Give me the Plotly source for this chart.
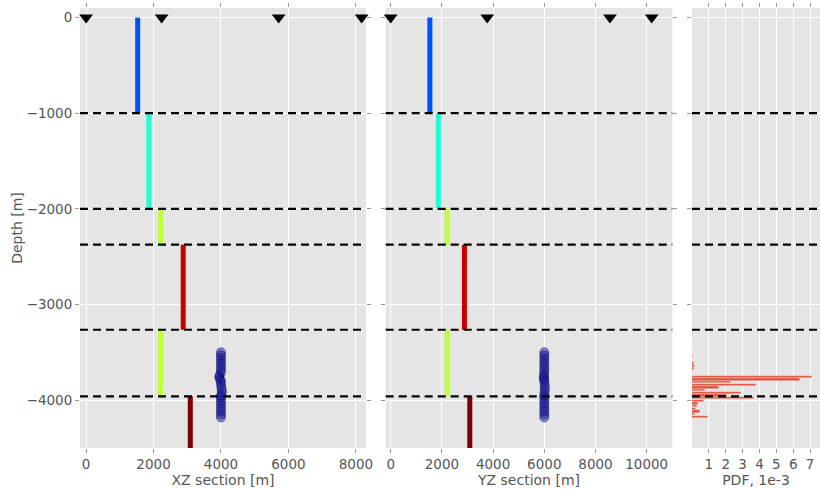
import plotly.graph_objects as go

# ---------------- data ----------------
interfaces = [-1000, -2000, -2374, -3264, -3960]
layer_top = [0, -1000, -2000, -2374, -3264, -3960]
layer_bot = [-1000, -2000, -2374, -3264, -3960, -4500]
layer_val = [1530, 1860, 2210, 2880, 2210, 3090]
layer_col = ["#0050ff", "#22ffd4", "#bfff3a", "#c80000", "#bfff3a", "#7f0000"]

stations_xz = [0, 2240, 5710, 8170]
stations_yz = [0, 3770, 8565, 10195]

ev_depth = [-3500, -3530, -3560, -3590, -3620, -3650, -3680, -3710, -3740, -3760,
            -3780, -3800, -3830, -3860, -3890, -3920, -3950, -3970, -4000, -4030,
            -4060, -4090, -4120, -4150, -4180]
ev_x = [4000, 4000, 4000, 4000, 4000, 4000, 4000, 4000, 3960, 3950,
        3970, 4000, 4000, 4010, 4020, 4030, 4000, 4000, 4000, 4000,
        4000, 4000, 4000, 4000, 4000]
ev_y = [6000, 6000, 6000, 6000, 6000, 6000, 6000, 6000, 5990, 5980,
        5990, 6000, 6010, 6020, 6020, 6010, 6000, 6000, 6000, 6000,
        6000, 6000, 6000, 6000, 6000]

pdf_depth = [-4175, -4147, -4119, -4091, -4063, -4035, -4007, -3979, -3951, -3923,
             -3895, -3867, -3839, -3811, -3783, -3755, -3727, -3699, -3671, -3643,
             -3615, -3587, -3559, -3531]
pdf_val = [0.95, 0.15, 0.45, 0.25, 0.3, 0.35, 0.74, 3.7, 2.1, 2.9,
           0.8, 1.6, 3.8, 2.3, 6.4, 7.1, 0.0, 0.0, 0.1, 0.15,
           0.1, 0.0, 0.0, 0.06]
pdf_bin = 26

xz_ticks = [0, 2000, 4000, 6000, 8000]
yz_ticks = [0, 2000, 4000, 6000, 8000, 10000]
pdf_ticks = [1, 2, 3, 4, 5, 6, 7]
depth_ticks = [0, -1000, -2000, -3000, -4000]

# ---------------- figure ----------------
fig = go.Figure()
axes = [("x", "y"), ("x2", "y2"), ("x3", "y3")]

for xa, ya, ex, st in [("x", "y", ev_x, stations_xz), ("x2", "y2", ev_y, stations_yz)]:
    for t, b, v, c in zip(layer_top, layer_bot, layer_val, layer_col):
        fig.add_trace(go.Scatter(x=[v, v], y=[t, b], mode="lines",
                                 line=dict(color=c, width=5), xaxis=xa, yaxis=ya,
                                 showlegend=False))
    fig.add_trace(go.Scatter(x=ex, y=ev_depth, mode="markers", xaxis=xa, yaxis=ya,
                             marker=dict(size=9, color="rgba(20,20,150,0.45)",
                                         line=dict(color="rgba(0,0,100,0.5)", width=1)),
                             showlegend=False))
    fig.add_trace(go.Scatter(x=st, y=[0] * len(st), mode="markers", xaxis=xa, yaxis=ya,
                             marker=dict(symbol="triangle-down", size=12, color="black"),
                             cliponaxis=False, showlegend=False))

fig.add_trace(go.Bar(x=pdf_val, y=pdf_depth, orientation="h", width=pdf_bin,
                     marker=dict(color="#E24A33", line=dict(color="#E5E5E5", width=0.5)),
                     xaxis="x3", yaxis="y3", showlegend=False))

for xa, ya in axes:
    for d in interfaces:
        fig.add_shape(type="line", xref=f"{xa} domain", yref=ya, x0=0, x1=1, y0=d, y1=d,
                      line=dict(color="black", width=2.2, dash="8px,5px"), layer="above")

grey = "#555555"
tfont = dict(size=14, color=grey, family="DejaVu Sans")
common = dict(showgrid=True, gridcolor="white", gridwidth=1, zeroline=False,
              ticks="outside", ticklen=4, tickcolor="#999999", mirror="ticks",
              showline=False, automargin=False,
              tickfont=dict(size=13.5, color=grey, family="DejaVu Sans"))

def xt(vals):
    return dict(tickvals=vals, ticktext=[str(v) for v in vals])

fig.update_layout(
    width=820, height=489,
    margin=dict(l=80, r=0, t=8, b=41),
    paper_bgcolor="white", plot_bgcolor="#E5E5E5",
    font=dict(family="DejaVu Sans", color=grey),
    bargap=0,
    xaxis=dict(domain=[0, 0.3865], range=[-180, 8300], anchor="y",
               title=dict(text="XZ section [m]", font=tfont, standoff=2), **xt(xz_ticks), **common),
    xaxis2=dict(domain=[0.4131, 0.8004], range=[-195, 11000], anchor="y2",
                title=dict(text="YZ section [m]", font=tfont, standoff=2), **xt(yz_ticks), **common),
    xaxis3=dict(domain=[0.827, 1.0], range=[0, 7.59], anchor="y3",
                title=dict(text="PDF, 1e-3", font=tfont, standoff=2), **xt(pdf_ticks), **common),
    yaxis=dict(range=[-4500, 100], tickvals=depth_ticks,
               title=dict(text="Depth [m]", font=tfont, standoff=0), **common),
    yaxis2=dict(range=[-4500, 100], tickvals=depth_ticks,
                showticklabels=False, anchor="x2", matches="y", **common),
    yaxis3=dict(range=[-4500, 100], tickvals=depth_ticks,
                showticklabels=False, anchor="x3", matches="y", **common),
)

fig.write_html("out.html", config={"displayModeBar": False},
               post_script="document.body.style.margin='0px';document.body.style.overflow='hidden';")
